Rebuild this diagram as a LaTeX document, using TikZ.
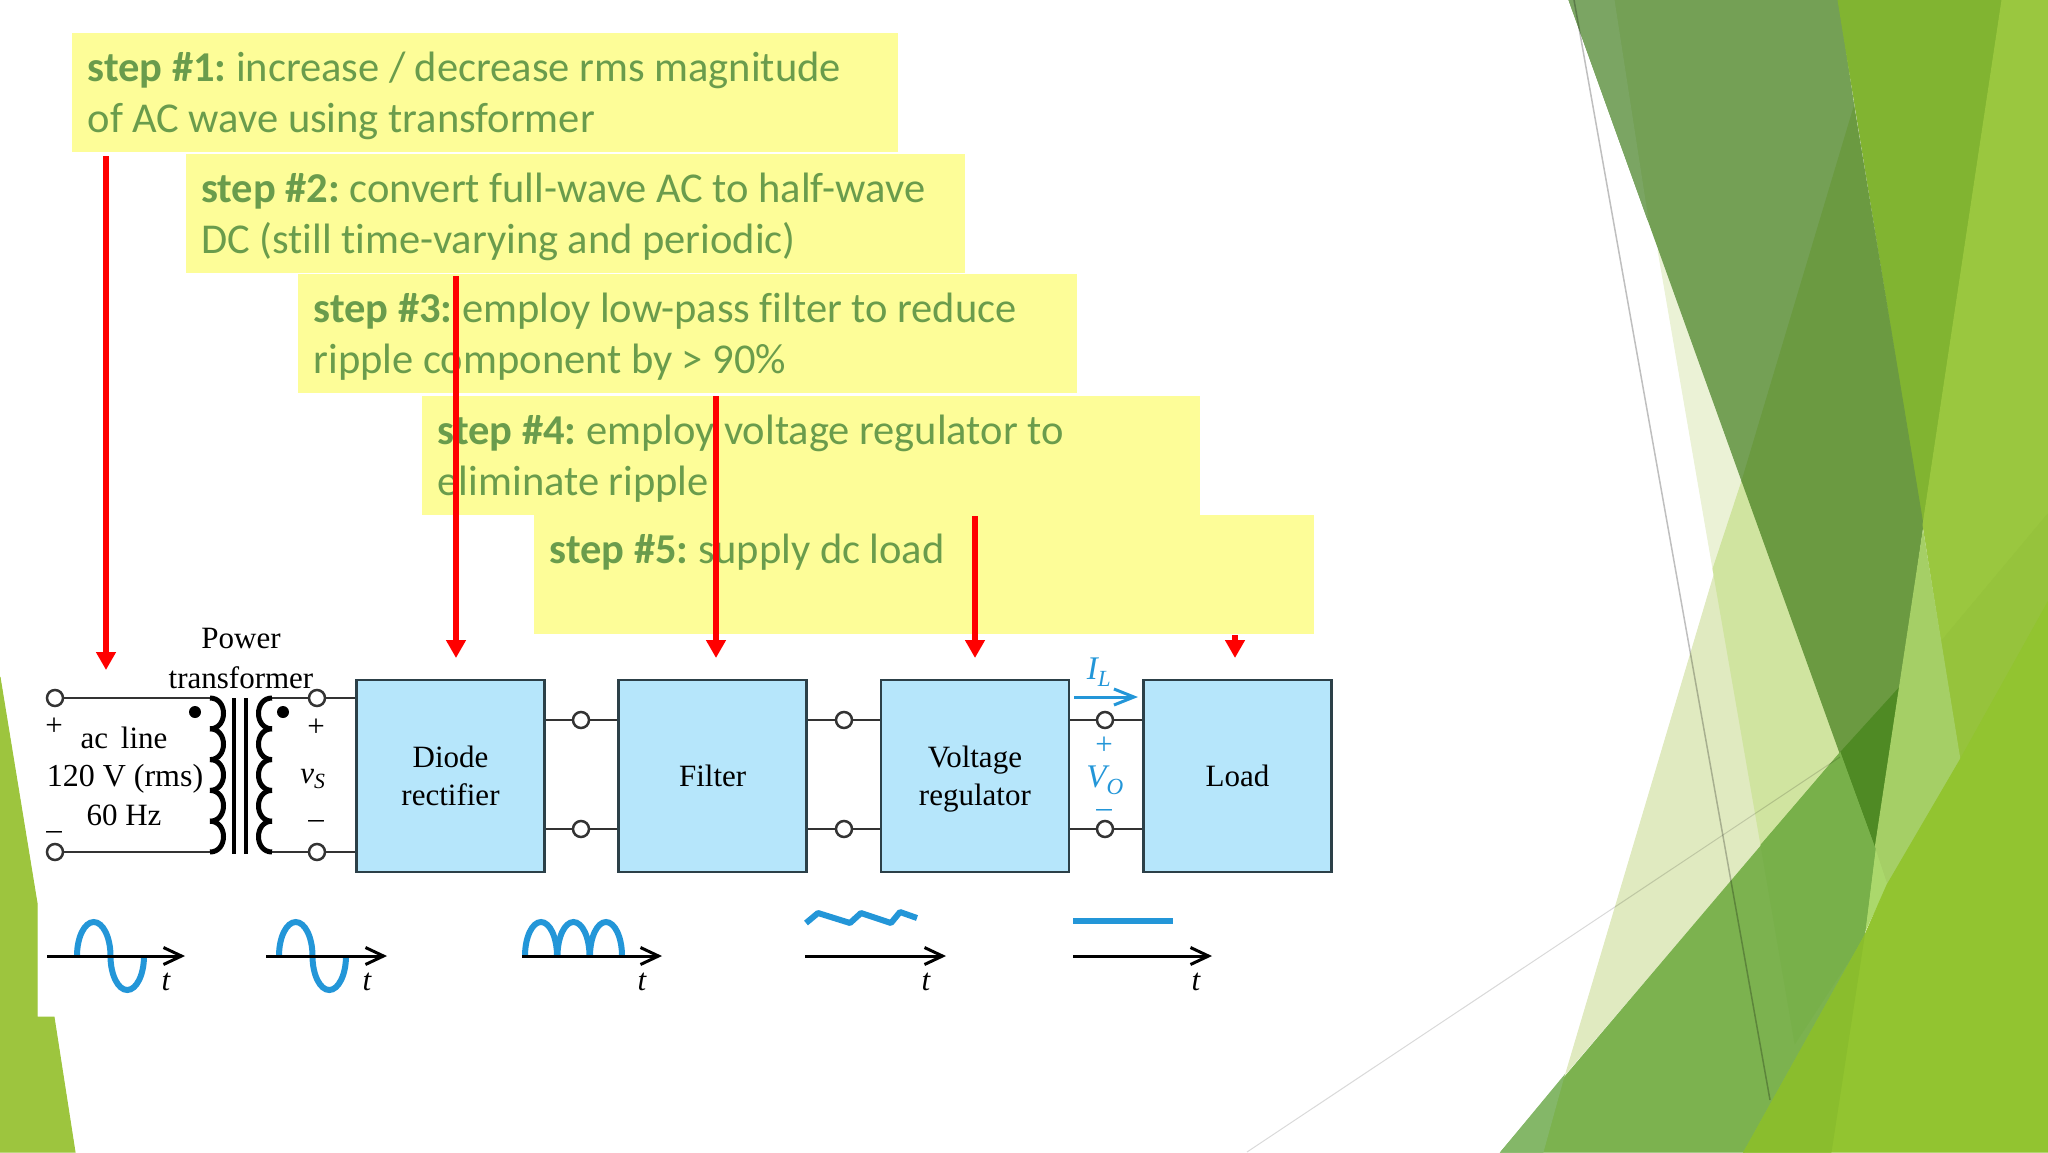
\documentclass[tikz,border=0pt]{standalone}
\usepackage{fontspec}
\usepackage{tikz}
\usetikzlibrary{positioning}
\usetikzlibrary{arrows.meta}
\setmainfont[Ligatures=NoCommon]{Carlito}
\newfontfamily\figfont{Liberation Serif}
\frenchspacing
\definecolor{stepyellow}{HTML}{FDFD98}
\definecolor{steptext}{HTML}{6A9C4C}
\definecolor{blockblue}{HTML}{B6E6FB}
\definecolor{blockline}{HTML}{2C4048}
\definecolor{wireblue}{HTML}{2396D8}
\definecolor{leftlime}{RGB}{157,197,62}
\definecolor{palebase}{RGB}{224,234,192}
\definecolor{palesliver}{RGB}{235,242,214}
\definecolor{paleover}{RGB}{208,228,160}
\definecolor{dulltop}{RGB}{116,160,85}
\definecolor{dullsliver}{RGB}{123,165,99}
\definecolor{darkmid}{RGB}{107,154,65}
\definecolor{darkest}{RGB}{79,138,36}
\definecolor{brighttop}{RGB}{129,180,49}
\definecolor{limeright}{RGB}{154,199,63}
\definecolor{limeband}{RGB}{150,195,60}
\definecolor{lightmid}{RGB}{165,207,102}
\definecolor{lightbit}{RGB}{171,216,108}
\definecolor{bandmid}{RGB}{124,178,79}
\definecolor{bandover}{RGB}{120,176,74}
\definecolor{bandbit}{RGB}{132,183,104}
\definecolor{limelow}{RGB}{146,196,48}
\definecolor{limelowb}{RGB}{138,189,45}
\newlength{\stepspace}
\setlength{\stepspace}{9.5pt}
\newcommand{\steplines}[2]{\setlength{\spaceskip}{\stepspace}\rule{0pt}{36pt}#1\\#2\vphantom{g}}
\tikzset{
	facet/.style={fill=#1, draw=#1, line width=1pt},
	stepbox/.style={fill=stepyellow, text=steptext, anchor=north west, inner xsep=15.5pt, inner ysep=5pt, align=left, minimum height=119pt, font=\fontsize{42.5}{51}\selectfont},
	blockbox/.style={fill=blockblue, draw=blockline, line width=2.5pt, minimum width=188pt, minimum height=192pt, align=center, text depth=0pt, font=\figfont\fontsize{31}{38}\selectfont},
	term/.style={circle, draw=black!80, fill=white, line width=2.5pt, minimum size=16pt, inner sep=0pt},
	figtext/.style={inner sep=0pt, align=center, font=\figfont\fontsize{31}{39}\selectfont},
	redline/.style={draw=red, line width=6pt, -{Triangle[length=18pt,width=19pt]}},
	wire/.style={draw=black!80, line width=2.5pt},
	axisline/.style={draw=black, line width=3pt, -{Straight Barb[length=18pt,width=17pt]}},
	wave/.style={draw=wireblue, line width=6pt},
	coil/.style={draw=black, line width=5pt},
}
\begin{document}
\begin{tikzpicture}[x=1pt, y=-1pt]
	\useasboundingbox (0,0) rectangle (2048,1152);
	% background facets
	\fill[facet=leftlime] (0,677) -- (37,903) -- (37,1017) -- (54,1017) -- (75,1152) -- (0,1152) -- cycle;
	\fill[facet=palebase] (1742,481) -- (1840,753) -- (1566,1073) -- cycle;
	\fill[facet=palesliver] (1658,250) -- (1742,481) -- (1713,569) -- cycle;
	\fill[facet=paleover] (1742,481) -- (1840,753) -- (1761,845) -- (1713,569) -- cycle;
	\fill[facet=dulltop] (1569,0) -- (1838,0) -- (1854,107) -- (1742,481) -- cycle;
	\fill[facet=dullsliver] (1569,0) -- (1614,0) -- (1648,220) -- cycle;
	\fill[facet=brighttop] (1838,0) -- (2002,0) -- (1923,525) -- cycle;
	\fill[facet=darkmid] (1854,107) -- (1923,525) -- (1900,687) -- (1840,753) -- (1742,481) -- cycle;
	\fill[facet=darkest] (1840,753) -- (1900,687) -- (1875,849) -- cycle;
	\fill[facet=limeright] (2002,0) -- (2048,0) -- (2048,602) -- (1960,760) -- (1923,525) -- cycle;
	\fill[facet=limeband] (2048,514) -- (1940,643) -- (1960,760) -- (2048,602) -- cycle;
	\fill[facet=lightmid] (1923,532) -- (1960,760) -- (1887,885) -- (1875,849) -- cycle;
	\fill[facet=lightbit] (1875,849) -- (1887,885) -- (1864,933) -- cycle;
	\fill[facet=bandmid] (1840,753) -- (1875,849) -- (1864,937) -- (1744,1152) -- (1501,1152) -- cycle;
	\fill[facet=bandover] (1761,845) -- (1840,753) -- (1875,849) -- (1864,937) -- (1795,1043) -- cycle;
	\fill[facet=bandbit] (1501,1152) -- (1564,1076) -- (1543,1152) -- cycle;
	\fill[facet=limelow] (2048,602) -- (2048,1152) -- (1744,1152) -- (1864,937) -- (1887,885) -- (1960,760) -- cycle;
	\fill[facet=limelowb] (1744,1152) -- (1864,937) -- (1831,1152) -- cycle;
	% thin lines
	\draw[draw=black, opacity=.25, line width=1.5pt] (1574,0) -- (1770,1100);
	\draw[draw=black, opacity=.15, line width=1pt] (1247,1152) -- (1840,757);
	% step boxes
	\node[stepbox, text width=795pt] (step1) at (72,33) {\steplines{\textbf{step \#1:} increase / decrease rms magnitude}{of AC wave using transformer}};
	\node[stepbox, text width=748pt] (step2) at (185.5,154) {\steplines{\textbf{step \#2:} convert full-wave AC to half-wave}{DC (still time-varying and periodic)}};
	\node[stepbox, text width=748pt] (step3) at (298,274) {\steplines{\textbf{step \#3:} employ low-pass filter to reduce}{ripple component by > 90\%}};
	\node[stepbox, text width=747pt] (step4) at (422,396) {\steplines{\textbf{step \#4:} employ voltage regulator to}{eliminate ripple}};
	\node[stepbox, text width=749pt] (step5) at (534,515) {\steplines{\textbf{step \#5:} supply dc load}{~}};
	% blocks
	\node[blockbox] (Diode) at (450.5,776) {Diode\\rectifier};
	\node[blockbox, right=71.7pt of Diode] (Filter) {Filter};
	\node[blockbox, right=71.7pt of Filter] (Regulator) {Voltage\\regulator};
	\node[blockbox, right=72pt of Regulator] (Load) {Load};
	% terminals
	\node[term] (inTop) at (55,698) {};
	\node[term] (inBot) at (55,852) {};
	\node[term] (secTop) at (317,698) {};
	\node[term] (secBot) at (317,852) {};
	\node[term] (aTop) at (581,720) {};
	\node[term] (aBot) at (581,829) {};
	\node[term] (bTop) at (844,720) {};
	\node[term] (bBot) at (844,829) {};
	\node[term] (cTop) at (1105,720) {};
	\node[term] (cBot) at (1105,829) {};
	\coordinate (coilA) at (210,698);
	\coordinate (coilB) at (210,852);
	\coordinate (coilC) at (272,698);
	\coordinate (coilD) at (272,852);
	\draw[wire] (inTop) -- (coilA);
	\draw[wire] (inBot) -- (coilB);
	\draw[wire] (coilC) -- (secTop) -- (Diode.west |- secTop);
	\draw[wire] (coilD) -- (secBot) -- (Diode.west |- secBot);
	\draw[wire] (Diode.east |- aTop) -- (aTop) -- (Filter.west |- aTop);
	\draw[wire] (Diode.east |- aBot) -- (aBot) -- (Filter.west |- aBot);
	\draw[wire] (Filter.east |- bTop) -- (bTop) -- (Regulator.west |- bTop);
	\draw[wire] (Filter.east |- bBot) -- (bBot) -- (Regulator.west |- bBot);
	\draw[wire] (Regulator.east |- cTop) -- (cTop) -- (Load.west |- cTop);
	\draw[wire] (Regulator.east |- cBot) -- (cBot) -- (Load.west |- cBot);
	% transformer
	\foreach \i in {0,...,4}{
		\draw[coil] (210,698+\i*30.8) .. controls (228,698+\i*30.8) and (228,698+\i*30.8+30.8) .. (210,698+\i*30.8+30.8);
		\draw[coil] (272,698+\i*30.8) .. controls (254,698+\i*30.8) and (254,698+\i*30.8+30.8) .. (272,698+\i*30.8+30.8);
	}
	\draw[draw=black, line width=4pt] (234,698) -- (234,854);
	\draw[draw=black, line width=4pt] (246,698) -- (246,854);
	\fill[black] (195,712) circle (6pt);
	\fill[black] (283,712) circle (6pt);
	% labels
	\node[figtext] (Power) at (241,638) {Power};
	\node[figtext] (Transformer) at (241,678) {transformer};
	\node[figtext] (acline) at (124,738) {ac\, line};
	\node[figtext, font=\figfont\fontsize{32}{39}\selectfont] (rmsv) at (125,779) {120 V (rms)};
	\node[figtext] (hz) at (124,815) {60 Hz};
	\node[figtext] (inPlus) at (54,727) {+};
	\node[figtext] (inMinus) at (54,835) {\textendash};
	\node[figtext] (secPlus) at (316,728) {+};
	\node[figtext] (vs) at (313,779) {\itshape v\textsubscript{S}};
	\node[figtext] (secMinus) at (316,824) {\textendash};
	\node[figtext, text=wireblue, font=\figfont\fontsize{33}{39}\selectfont] (IL) at (1099,672) {\itshape I\textsubscript{L}};
	\node[figtext, text=wireblue] (outPlus) at (1104,746) {+};
	\node[figtext, text=wireblue, font=\figfont\fontsize{33}{39}\selectfont] (VO) at (1105,780) {\itshape V\textsubscript{O}};
	\node[figtext, text=wireblue] (outMinus) at (1104,813) {\textendash};
	\coordinate (ilStart) at (1074,697);
	\coordinate (ilEnd) at (1138,697);
	\draw[draw=wireblue, line width=3pt, -{Straight Barb[length=20pt,width=16pt]}] (ilStart) -- (ilEnd);
	% waveforms
	\foreach \start in {77,279}{
		\draw[wave] (\start,956) arc[start angle=180, end angle=360, x radius=16.75, y radius=34] arc[start angle=180, end angle=0, x radius=16.75, y radius=34];
	}
	\foreach \start in {525,557.5,590}{
		\draw[wave] (\start,956) arc[start angle=180, end angle=360, x radius=16, y radius=34];
	}
	\draw[wave, line join=round] (806,923) -- (818,913) -- (850,923) -- (861,913) -- (891,923) -- (900,912) -- (917,918);
	\draw[draw=wireblue, line width=6pt] (1073,921) -- (1173,921);
	\foreach \a/\b/\n in {47/185/a,266/387/b,522/662/c,805/946/d,1073/1212/e}{
		\coordinate (axis\n S) at (\a,956);
		\coordinate (axis\n E) at (\b,956);
		\draw[axisline] (axis\n S) -- (axis\n E);
	}
	\foreach \tx/\n in {166/a,367/b,642/c,926/d,1196/e}{
		\node[figtext] (t\n) at (\tx,982) {\itshape t};
	}
	% red arrows
	\coordinate (red1S) at (106,156);
	\coordinate (red1E) at (106,670);
	\coordinate (red2S) at (456,276);
	\coordinate (red2E) at (456,658);
	\coordinate (red3S) at (716,396);
	\coordinate (red3E) at (716,658);
	\coordinate (red4S) at (975,516);
	\coordinate (red4E) at (975,658);
	\coordinate (red5S) at (1235,635);
	\coordinate (red5E) at (1235,658);
	\draw[redline] (red1S) -- (red1E);
	\draw[redline] (red2S) -- (red2E);
	\draw[redline] (red3S) -- (red3E);
	\draw[redline] (red4S) -- (red4E);
	\draw[redline] (red5S) -- (red5E);
\end{tikzpicture}
\end{document}
